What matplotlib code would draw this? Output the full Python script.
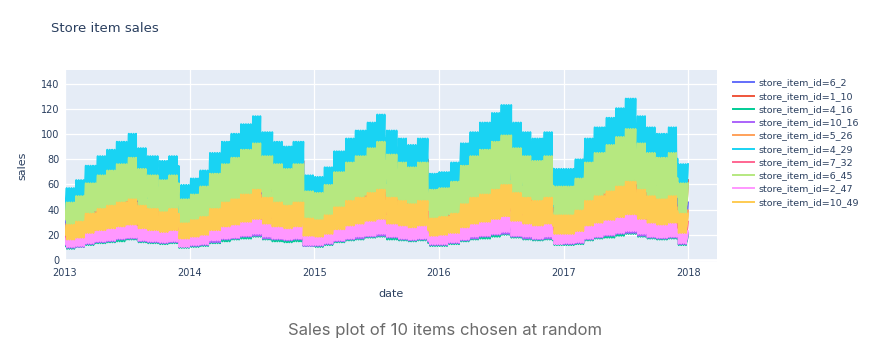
import numpy as np
import pandas as pd
from matplotlib import pyplot as plt

# monthly average sales per item (Jan..Dec, 2013..2017)
sales_6_2 = [27, 30, 36, 40, 43, 46, 48, 43, 40, 38, 40, 29,
             31, 35, 41, 46, 49, 52, 55, 49, 46, 43, 46, 33,
             32, 35, 42, 46, 49, 53, 56, 50, 46, 44, 46, 33,
             34, 37, 44, 49, 52, 56, 59, 53, 49, 47, 49, 35,
             35, 39, 46, 51, 54, 59, 62, 55, 51, 49, 51, 36]
sales_1_10 = [37, 42, 49, 55, 58, 62, 66, 59, 55, 52, 55, 39,
              43, 47, 56, 62, 67, 71, 75, 67, 62, 59, 62, 45,
              44, 48, 57, 63, 68, 72, 76, 68, 63, 60, 63, 45,
              46, 51, 61, 67, 72, 77, 81, 72, 67, 64, 67, 48,
              48, 53, 63, 70, 74, 80, 85, 75, 70, 67, 70, 50]
sales_4_16 = [12, 14, 16, 18, 19, 20, 22, 19, 18, 17, 18, 13,
              14, 15, 18, 20, 22, 23, 25, 22, 20, 19, 20, 15,
              14, 16, 19, 21, 22, 24, 25, 22, 21, 20, 21, 15,
              15, 17, 20, 22, 23, 25, 27, 24, 22, 21, 22, 16,
              16, 17, 21, 23, 24, 26, 28, 25, 23, 22, 23, 16]
sales_10_16 = [13, 14, 17, 19, 20, 22, 23, 20, 19, 18, 19, 14,
               15, 16, 19, 22, 23, 25, 26, 23, 22, 21, 22, 15,
               15, 17, 20, 22, 23, 25, 26, 24, 22, 21, 22, 16,
               16, 18, 21, 23, 25, 27, 28, 25, 23, 22, 23, 17,
               17, 18, 22, 24, 26, 28, 29, 26, 24, 23, 24, 17]
sales_5_26 = [23, 26, 30, 34, 36, 38, 41, 36, 34, 32, 34, 24,
              26, 29, 35, 38, 41, 44, 46, 41, 38, 36, 38, 28,
              27, 30, 35, 39, 42, 44, 47, 42, 39, 37, 39, 28,
              28, 31, 37, 41, 44, 47, 50, 44, 41, 39, 41, 29,
              29, 33, 39, 43, 46, 49, 52, 46, 43, 41, 43, 31]
sales_4_29 = [45, 50, 59, 65, 69, 74, 79, 70, 65, 62, 65, 47,
              51, 56, 67, 74, 79, 85, 90, 80, 74, 71, 74, 53,
              52, 58, 68, 76, 81, 86, 91, 81, 76, 72, 76, 54,
              55, 61, 73, 80, 86, 92, 97, 86, 80, 76, 80, 57,
              57, 63, 76, 83, 89, 95, 101, 90, 83, 79, 83, 60]
sales_7_32 = [18, 20, 24, 26, 28, 30, 32, 28, 26, 25, 26, 19,
              21, 23, 27, 30, 32, 34, 36, 32, 30, 29, 30, 22,
              21, 23, 28, 31, 33, 35, 37, 33, 31, 29, 31, 22,
              22, 25, 29, 32, 35, 37, 39, 35, 32, 31, 32, 23,
              23, 26, 31, 34, 36, 39, 41, 36, 34, 32, 34, 24]
sales_6_45 = [36, 40, 48, 53, 56, 60, 64, 57, 53, 50, 53, 38,
              41, 46, 54, 60, 64, 69, 73, 65, 60, 57, 60, 43,
              42, 47, 55, 61, 65, 70, 74, 66, 61, 58, 61, 44,
              45, 49, 59, 65, 69, 74, 78, 70, 65, 62, 65, 46,
              46, 51, 61, 67, 72, 77, 82, 73, 67, 64, 67, 48]
sales_2_47 = [14, 15, 18, 20, 21, 23, 24, 21, 20, 19, 20, 14,
              16, 17, 21, 23, 24, 26, 28, 25, 23, 22, 23, 16,
              16, 18, 21, 23, 25, 26, 28, 25, 23, 22, 23, 17,
              17, 19, 22, 25, 26, 28, 30, 26, 25, 23, 25, 17,
              18, 19, 23, 25, 27, 29, 31, 28, 25, 24, 25, 18]
sales_10_49 = [22, 24, 29, 32, 34, 36, 38, 34, 32, 30, 32, 23,
               25, 27, 32, 36, 38, 41, 44, 39, 36, 34, 36, 26,
               25, 28, 33, 37, 39, 42, 44, 39, 37, 35, 37, 26,
               27, 29, 35, 39, 41, 44, 47, 42, 39, 37, 39, 28,
               28, 31, 37, 40, 43, 46, 49, 44, 40, 38, 40, 29]

# day-of-week pattern (Mon..Sun) relative to the monthly average
weekday_factor = [0.74, 0.90, 0.91, 0.97, 1.06, 1.15, 1.27]

item_ids = ["6_2", "1_10", "4_16", "10_16", "5_26", "4_29", "7_32", "6_45", "2_47", "10_49"]
monthly = [sales_6_2, sales_1_10, sales_4_16, sales_10_16, sales_5_26,
           sales_4_29, sales_7_32, sales_6_45, sales_2_47, sales_10_49]
colors = ["#636EFA", "#EF553B", "#00CC96", "#AB63FA", "#FFA15A",
          "#19D3F3", "#FF6692", "#B6E880", "#FF97FF", "#FECB52"]

dates = pd.date_range("2013-01-01", "2017-12-31", freq="D")
month_idx = (dates.year - 2013) * 12 + dates.month - 1
wd = np.array(weekday_factor)[dates.dayofweek]

fig = plt.figure(figsize=(8.8, 3.51), dpi=100)
ax = fig.add_axes([65 / 880, 1 - 262 / 351, (717 - 65) / 880, (262 - 70) / 351])
ax.set_facecolor("#E5ECF6")

for item, vals, c in zip(item_ids, monthly, colors):
    y = np.array(vals)[month_idx] * wd
    ax.plot(dates, y, color=c, lw=1.4, label="store_item_id=" + item)

ax.axhline(0, color="white", lw=2, zorder=0.5)
ax.grid(True, color="white", lw=0.9)
ax.set_axisbelow(True)
for s in ax.spines.values():
    s.set_visible(False)

ax.set_xlim(pd.Timestamp("2013-01-01"), pd.Timestamp("2018-03-26"))
ax.set_ylim(-1.6, 151)
ax.set_yticks(range(0, 141, 20))
ax.set_xticks([pd.Timestamp(f"{yr}-01-01") for yr in range(2013, 2019)])
ax.set_xticklabels([str(yr) for yr in range(2013, 2019)])
ax.tick_params(length=0, labelsize=7, labelcolor="#2a3f5f", pad=4)
ax.set_xlabel("date", fontsize=8, color="#2a3f5f", labelpad=8)
ax.set_ylabel("sales", fontsize=8, color="#2a3f5f", labelpad=10)

ax.legend(loc="upper left", bbox_to_anchor=(1.018, 0.975), frameon=False,
          fontsize=6.8, labelcolor="#2a3f5f", handlelength=2.3,
          labelspacing=0.45, handletextpad=0.5, borderaxespad=0)

fig.text(51 / 880, 1 - 29 / 351, "Store item sales", fontsize=9.5,
         color="#2a3f5f", va="center")
fig.text(445 / 880, 1 - 331 / 351, "Sales plot of 10 items chosen at random",
         fontsize=12, color="#6b6b6b", ha="center", va="center", family="Inter")

fig.savefig("out.png", dpi=100)
